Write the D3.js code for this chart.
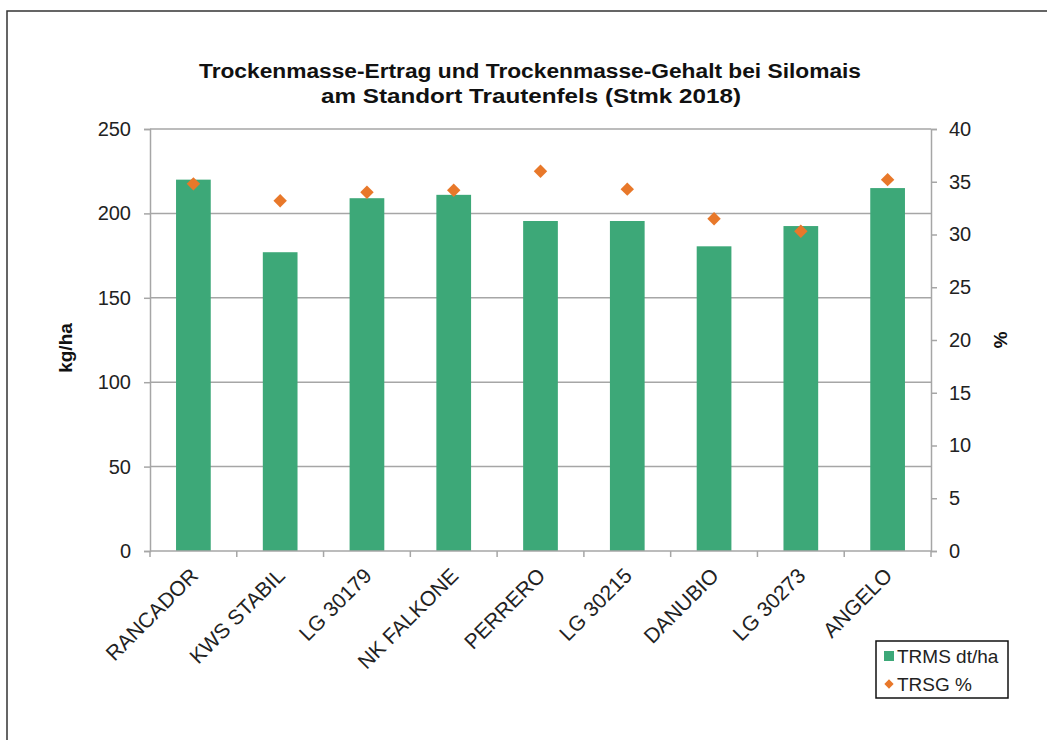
<!DOCTYPE html>
<html>
<head>
<meta charset="utf-8">
<script src="https://cdn.jsdelivr.net/npm/d3@7"></script>
<style>
  body { margin: 0; background: #fff; }
  svg { font-family: "Liberation Sans", Arial, sans-serif; }
</style>
</head>
<body>
<svg id="chart" width="1047" height="740"></svg>
<script>
var sorten = ['RANCADOR', 'KWS STABIL', 'LG 30179', 'NK FALKONE', 'PERRERO', 'LG 30215', 'DANUBIO', 'LG 30273', 'ANGELO']
var trms = [220, 177, 209, 211, 195.5, 195.5, 180.5, 192.5, 215]
var trsg = [34.8, 33.2, 34.0, 34.2, 36.0, 34.3, 31.5, 30.3, 35.2]
var leftTicks = [0, 50, 100, 150, 200, 250]
var rightTicks = [0, 5, 10, 15, 20, 25, 30, 35, 40]

var svg = d3.select('#chart')
var margin = { left: 150, right: 931, top: 129, bottom: 551 }

// outer frame
svg.append('rect')
    .attr('x', 7).attr('y', 11)
    .attr('width', 1100).attr('height', 800)
    .attr('fill', 'none').attr('stroke', '#333').attr('stroke-width', 1.5)

var xscale = d3.scaleBand().domain(sorten).range([margin.left, margin.right])
var yscale = d3.scaleLinear().domain([0, 250]).range([margin.bottom, margin.top])
var y2scale = d3.scaleLinear().domain([0, 40]).range([margin.bottom, margin.top])

// gridlines
svg.append('g').selectAll('line').data(leftTicks.slice(1)).enter()
    .append('line')
    .attr('x1', margin.left).attr('x2', margin.right)
    .attr('y1', d => yscale(d)).attr('y2', d => yscale(d))
    .attr('stroke', '#a6a6a6').attr('stroke-width', 1.5)

// left axis
var yAxis = svg.append('g')
    .attr('transform', 'translate(' + margin.left + ',0)')
    .call(d3.axisLeft(yscale).tickValues(leftTicks).tickSize(6).tickPadding(13))
yAxis.select('.domain').attr('stroke', '#a6a6a6').attr('stroke-width', 1.5)
yAxis.selectAll('.tick line').attr('stroke', '#a6a6a6').attr('stroke-width', 1.5)
yAxis.selectAll('text').attr('font-size', 20).attr('fill', '#222')
    .style('font-family', '"Liberation Sans", Arial, sans-serif')

// right axis
var y2Axis = svg.append('g')
    .attr('transform', 'translate(' + margin.right + ',0)')
    .call(d3.axisRight(y2scale).tickValues(rightTicks).tickSize(6).tickPadding(12))
y2Axis.select('.domain').attr('stroke', '#a6a6a6').attr('stroke-width', 1.5)
y2Axis.selectAll('.tick line').attr('stroke', '#a6a6a6').attr('stroke-width', 1.5)
y2Axis.selectAll('text').attr('font-size', 20).attr('fill', '#222')
    .style('font-family', '"Liberation Sans", Arial, sans-serif')

// bars
svg.append('g').selectAll('rect').data(sorten).enter()
    .append('rect')
    .attr('x', d => xscale(d) + xscale.bandwidth() * 0.3)
    .attr('width', xscale.bandwidth() * 0.4)
    .attr('y', (d, i) => yscale(trms[i]))
    .attr('height', (d, i) => yscale(0) - yscale(trms[i]))
    .attr('fill', '#3da878')

// x axis with ticks at category boundaries
var xg = svg.append('g')
xg.append('line')
    .attr('x1', margin.left).attr('x2', margin.right)
    .attr('y1', margin.bottom).attr('y2', margin.bottom)
    .attr('stroke', '#a6a6a6').attr('stroke-width', 1.5)
xg.selectAll('line.tk').data(sorten.concat(['end'])).enter()
    .append('line').attr('class', 'tk')
    .attr('x1', (d, i) => i < sorten.length ? xscale(d) : margin.right)
    .attr('x2', (d, i) => i < sorten.length ? xscale(d) : margin.right)
    .attr('y1', margin.bottom).attr('y2', margin.bottom + 6)
    .attr('stroke', '#a6a6a6').attr('stroke-width', 1.5)
xg.selectAll('text').data(sorten).enter()
    .append('text').text(d => d)
    .attr('text-anchor', 'end')
    .attr('font-size', 21)
    .attr('fill', '#222')
    .attr('transform', d => 'translate(' + (xscale(d) + xscale.bandwidth() / 2 + 6) + ',' + (margin.bottom + 26) + ') rotate(-45)')

// diamonds
svg.append('g').selectAll('path').data(sorten).enter()
    .append('path')
    .attr('d', d3.symbol().type(d3.symbolDiamond2).size(115))
    .attr('transform', (d, i) => 'translate(' + (xscale(d) + xscale.bandwidth() / 2) + ',' + y2scale(trsg[i]) + ')')
    .attr('fill', '#e8782a')

// title
svg.append('text').attr('x', 530).attr('y', 78).attr('text-anchor', 'middle')
    .attr('font-size', 20).attr('font-weight', 'bold').attr('fill', '#111')
    .attr('textLength', 662).attr('lengthAdjust', 'spacingAndGlyphs')
    .text('Trockenmasse-Ertrag und Trockenmasse-Gehalt bei Silomais')
svg.append('text').attr('x', 531).attr('y', 103).attr('text-anchor', 'middle')
    .attr('font-size', 20).attr('font-weight', 'bold').attr('fill', '#111')
    .attr('textLength', 420).attr('lengthAdjust', 'spacingAndGlyphs')
    .text('am Standort Trautenfels (Stmk 2018)')

// axis titles
svg.append('text').text('kg/ha')
    .attr('transform', 'translate(72,348) rotate(-90)')
    .attr('text-anchor', 'middle').attr('font-size', 19).attr('font-weight', 'bold').attr('fill', '#111')
svg.append('text').text('%')
    .attr('transform', 'translate(994,340) rotate(90)')
    .attr('text-anchor', 'middle').attr('font-size', 19).attr('font-weight', 'bold').attr('fill', '#111')

// legend
var lg = svg.append('g').attr('transform', 'translate(876,641)')
lg.append('rect').attr('width', 132).attr('height', 57)
    .attr('fill', '#fff').attr('stroke', '#111').attr('stroke-width', 1.5)
lg.append('rect').attr('x', 8).attr('y', 10).attr('width', 10).attr('height', 10).attr('fill', '#3da878')
lg.append('text').text('TRMS dt/ha').attr('x', 21).attr('y', 22).attr('font-size', 19).attr('fill', '#222')
lg.append('path')
    .attr('d', d3.symbol().type(d3.symbolDiamond2).size(55))
    .attr('transform', 'translate(13,43)').attr('fill', '#e8782a')
lg.append('text').text('TRSG %').attr('x', 21).attr('y', 50).attr('font-size', 19).attr('fill', '#222')
</script>
</body>
</html>
